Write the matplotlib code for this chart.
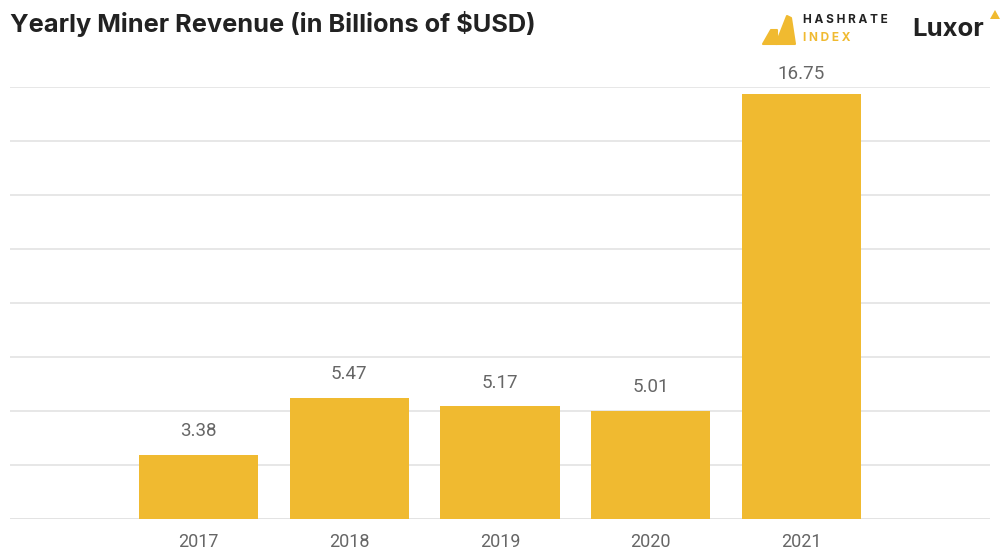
import matplotlib.pyplot as plt
from matplotlib.patches import Polygon

years = ["2017", "2018", "2019", "2020", "2021"]
revenue = [3.38, 5.47, 5.17, 5.01, 16.75]

W, H = 1002, 552
BAR_COLOR = "#F0BA30"
DARK = "#222222"


def px(x, y):
    # pixel coords (top-left origin) -> figure fraction
    return x / W, 1 - y / H


fig = plt.figure(figsize=(W / 100, H / 100), dpi=100)
ax = fig.add_axes([10 / W, (H - 519) / H, 980 / W, (519 - 87) / H])

x = range(len(years))
ax.bar(x, revenue, width=0.79, bottom=0, color=BAR_COLOR, zorder=3)

for i, v in enumerate(revenue):
    off = 0.4 if v > 16 else 0.55
    ax.text(i, v + off, f"{v:.2f}", ha="center", va="bottom",
            fontsize=13.5, color="#666666", family="Roboto")

ax.set_ylim(1, 17)
ax.set_xlim(-1.25, 5.25)
ax.set_yticks(range(1, 18, 2))
ax.set_yticklabels([])
ax.set_xticks(list(x))
ax.set_xticklabels(years, fontsize=13, color="#666666", family="Roboto")
ax.tick_params(axis="both", length=0)
ax.tick_params(axis="x", pad=10)
ax.grid(True, axis="y", color="#e3e3e3", linewidth=1.2, zorder=0)
for s in ax.spines.values():
    s.set_visible(False)
ax.axhline(1, color="#e3e3e3", linewidth=2, zorder=2)

# title
fig.text(*px(10, 24), "Yearly Miner Revenue (in Billions of $USD)",
         fontsize=18.3, fontweight="bold", color=DARK, family="Inter",
         va="center", ha="left")

# Hashrate Index logo
small = [px(763, 44), px(771, 30), px(777, 30), px(777, 44)]
big = [px(776, 44), px(787, 16), px(791, 18), px(795, 44)]
for pts in (small, big):
    fig.add_artist(Polygon(pts, closed=True, transform=fig.transFigure,
                           facecolor=BAR_COLOR, edgecolor=BAR_COLOR,
                           joinstyle="round", linewidth=1.5))
fig.text(*px(803, 20), "H A S H R A T E", fontsize=8.5, fontweight="bold",
         color=DARK, family="Inter", va="center", ha="left")
fig.text(*px(803, 38), "I N D E X", fontsize=8.5, fontweight="bold",
         color=BAR_COLOR, family="Inter", va="center", ha="left")

# Luxor logo
fig.text(*px(912, 29), "Luxor", fontsize=18.5, fontweight="bold",
         color=DARK, family="Inter", va="center", ha="left")
tri = [px(990, 19), px(995, 10), px(1000, 19)]
fig.add_artist(Polygon(tri, closed=True, transform=fig.transFigure,
                       facecolor=BAR_COLOR, edgecolor="none"))

fig.savefig("out.png", dpi=100, facecolor="white")
